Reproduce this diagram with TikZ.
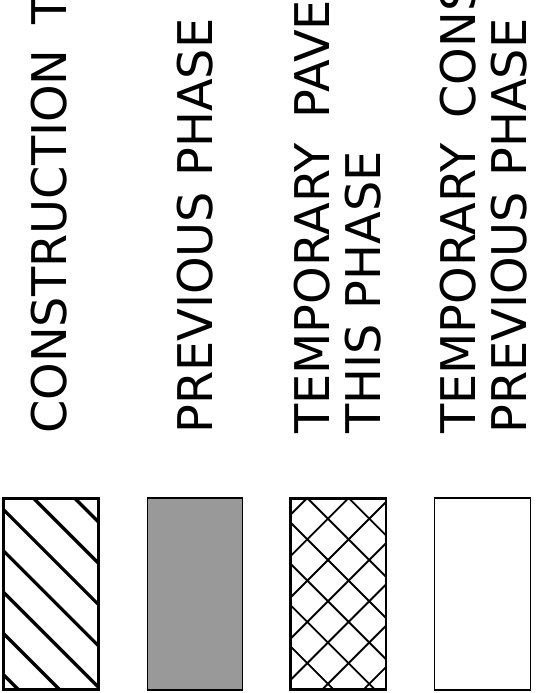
\documentclass[tikz,border=0pt]{standalone}
\usepackage{fontspec}
\setmainfont{DejaVu Sans}
\definecolor{swgrey}{RGB}{153,153,153}
\newcommand{\widegap}{\hspace{25pt}}
\begin{document}
\begin{tikzpicture}[x=1pt,y=-1pt,
  lbl/.style={rotate=90,anchor=base west,inner sep=0pt,font=\fontsize{47.8}{54}\selectfont},
  hatchthick/.style={line width=3.3pt},
  hatchthin/.style={line width=1.9pt}]
\useasboundingbox (0,0) rectangle (548,693);
% labels
\node[lbl] (t1) at (66.5,434) {CONSTRUCTION\widegap THIS PHASE};
\node[lbl] (t2) at (212,434) {PREVIOUS PHASE};
\node[lbl] (t3a) at (329.5,434) {TEMPORARY\widegap PAVEMENT};
\node[lbl] (t3b) at (380,434) {THIS PHASE};
\node[lbl] (t4a) at (475,434) {TEMPORARY\widegap CONSTRUCTION};
\node[lbl] (t4b) at (526,434) {PREVIOUS PHASE};
% swatch 1: single hatch
\begin{scope}
  \clip (3.5,498.5) rectangle (98.5,689.5);
  \foreach \k in {-1,...,7} {
    \pgfmathsetmacro{\c}{423.5+41.3*\k}
    \draw[hatchthick] (-10,{-10+\c}) -- (110,{110+\c});
  }
\end{scope}
\draw[line width=3.5pt] (3.7,498.7) rectangle (98.3,689.3);
% swatch 2: grey
\draw[line width=1.5pt,fill=swgrey] (147.7,498) rectangle (242.3,690);
% swatch 3: crosshatch
\begin{scope}
  \clip (290.5,498.5) rectangle (386,689.5);
  \foreach \k in {-3,...,6} {
    \pgfmathsetmacro{\c}{190.7+41.3*\k}
    \draw[hatchthin] (280,{280+\c}) -- (400,{400+\c});
  }
  \foreach \k in {-2,...,8} {
    \pgfmathsetmacro{\d}{805.3+41.3*\k}
    \draw[hatchthin] (280,{\d-280}) -- (400,{\d-400});
  }
\end{scope}
\draw[line width=2.5pt] (290.7,498.7) rectangle (385.8,689.3);
% swatch 4: empty
\draw[line width=1.5pt,fill=white] (434.7,498) rectangle (530.3,690);
\end{tikzpicture}
\end{document}
